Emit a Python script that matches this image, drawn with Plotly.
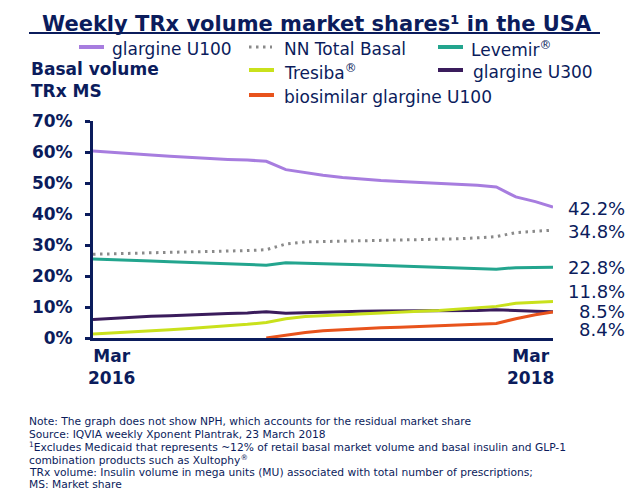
import plotly.graph_objects as go

# ---------------- data ----------------
months = ["2016-03-01", "2016-04-01", "2016-05-01", "2016-06-01", "2016-07-01",
          "2016-08-01", "2016-09-01", "2016-10-01", "2016-11-01", "2016-12-01",
          "2017-01-01", "2017-02-01", "2017-03-01", "2017-04-01", "2017-05-01",
          "2017-06-01", "2017-07-01", "2017-08-01", "2017-09-01", "2017-10-01",
          "2017-11-01", "2017-12-01", "2018-01-01", "2018-02-01", "2018-03-01"]

glargine_u100 = [60.3, 59.8, 59.3, 59.0, 58.6, 58.2, 58.0, 57.6, 57.4, 57.0,
                 54.3, 53.3, 52.5, 51.8, 51.2, 50.8, 50.5, 50.2, 49.9, 49.6,
                 49.3, 48.7, 45.5, 44.0, 42.2]
nn_total_basal = [27.0, 27.2, 27.3, 27.5, 27.6, 27.8, 27.9, 28.0, 28.2, 28.5,
                  30.3, 31.0, 31.1, 31.2, 31.3, 31.4, 31.5, 31.6, 31.8, 32.0,
                  32.3, 32.7, 34.0, 34.4, 34.8]
levemir = [25.5, 25.2, 25.0, 24.8, 24.6, 24.4, 24.2, 24.0, 23.8, 23.5,
           24.3, 24.2, 24.0, 23.8, 23.6, 23.4, 23.2, 23.0, 22.9, 22.7,
           22.5, 22.2, 22.7, 22.8, 22.8]
glargine_u300 = [6.0, 6.4, 6.7, 7.0, 7.2, 7.5, 7.7, 7.9, 8.1, 8.5,
                 8.0, 8.2, 8.4, 8.5, 8.6, 8.7, 8.7, 8.8, 8.8, 8.9,
                 8.9, 9.1, 8.8, 8.6, 8.5]
tresiba = [1.3, 1.6, 1.9, 2.3, 2.7, 3.1, 3.5, 3.9, 4.4, 5.0,
           6.2, 6.9, 7.2, 7.5, 7.8, 8.0, 8.3, 8.6, 8.9, 9.3,
           9.7, 10.2, 11.2, 11.5, 11.8]
biosimilar_u100 = [None, None, None, None, None, None, None, None, None, 0.0,
                   1.0, 1.8, 2.3, 2.7, 3.0, 3.3, 3.5, 3.8, 4.0, 4.2,
                   4.4, 4.7, 6.2, 7.5, 8.4]

y_ticks = [0, 10, 20, 30, 40, 50, 60, 70]
y_tick_labels = ["0%", "10%", "20%", "30%", "40%", "50%", "60%", "70%"]
x_labels = ["Mar<br>2016", "Mar<br>2018"]

footnote_lines = [
    "Note: The graph does not show NPH, which accounts for the residual market share",
    "Source: IQVIA weekly Xponent Plantrak, 23 March 2018",
    "<sup>1</sup>Excludes Medicaid that represents ~12% of retail basal market volume and basal insulin and GLP-1",
    "combination products such as Xultophy<sup>®</sup>",
    "TRx volume: Insulin volume in mega units (MU) associated with total number of prescriptions;",
    "MS: Market share",
]

# ---------------- style ----------------
NAVY = "#0b1c5c"
C_U100 = "#a77ddf"
C_NN = "#8a8a8a"
C_LEV = "#23a58e"
C_TRE = "#c9e11c"
C_U300 = "#3a1c5c"
C_BIO = "#e8531c"
FONT = "DejaVu Sans, Verdana, sans-serif"

L, R, T, B = 93, 553, 121, 338  # plot area in pixels


def px(x):
    return (x - L) / (R - L)


def py(y):
    return (B - y) / (B - T)


series = [
    ("glargine U100", glargine_u100, C_U100, "solid"),
    ("NN Total Basal", nn_total_basal, C_NN, "2.5px,4.5px"),
    ("Levemir®", levemir, C_LEV, "solid"),
    ("glargine U300", glargine_u300, C_U300, "solid"),
    ("Tresiba®", tresiba, C_TRE, "solid"),
    ("biosimilar glargine U100", biosimilar_u100, C_BIO, "solid"),
]

fig = go.Figure()
for name, vals, col, dash in series:
    fig.add_trace(go.Scatter(x=months, y=vals, name=name, mode="lines",
                             line=dict(color=col, width=3, dash=dash),
                             connectgaps=False, showlegend=False))

fig.update_layout(
    width=640, height=500,
    margin=dict(l=L, r=640 - R, t=T, b=500 - B),
    paper_bgcolor="white", plot_bgcolor="white",
    showlegend=False,
    font=dict(family=FONT, color=NAVY),
)
fig.update_xaxes(range=[months[0], months[-1]], showline=True, linecolor=NAVY,
                 linewidth=3, showgrid=False, zeroline=False,
                 showticklabels=False, ticks="")
fig.update_yaxes(range=[0, 70], tickmode="array", tickvals=y_ticks, ticktext=y_tick_labels,
                 showline=True, linecolor=NAVY, linewidth=3, showgrid=False,
                 zeroline=False, ticks="outside", ticklen=5, tickwidth=3,
                 tickcolor=NAVY, ticklabelstandoff=9,
                 tickfont=dict(family=FONT, size=17, color=NAVY, weight="bold"))

ann = []
shapes = []

# title + underline
ann.append(dict(xref="paper", yref="paper", x=px(317), y=py(24), xanchor="center",
                yanchor="middle", showarrow=False,
                text="<b>Weekly TRx volume market shares¹ in the USA</b>",
                font=dict(family=FONT, size=21, color=NAVY)))
shapes.append(dict(type="line", xref="paper", yref="paper", x0=px(29), x1=px(600),
                   y0=py(33), y1=py(33), line=dict(color=NAVY, width=2)))

# y-axis caption
for txt, yy in [("Basal volume", 69), ("TRx MS", 91)]:
    ann.append(dict(xref="paper", yref="paper", x=px(29), y=py(yy), xanchor="left",
                    yanchor="middle", showarrow=False, text="<b>" + txt + "</b>",
                    font=dict(family=FONT, size=17, color=NAVY)))

# legend (manual)
legend_pos = {
    "glargine U100": (79, 104, 110, 47),
    "NN Total Basal": (249, 272, 282, 47),
    "Levemir®": (438, 463, 469, 47),
    "Tresiba®": (249, 274, 282, 70),
    "glargine U300": (438, 463, 471, 70),
    "biosimilar glargine U100": (249, 274, 282, 95),
}
for name, vals, col, dash in series:
    k0, k1, tx, yy = legend_pos[name]
    shapes.append(dict(type="line", xref="paper", yref="paper", x0=px(k0), x1=px(k1),
                       y0=py(yy), y1=py(yy),
                       line=dict(color=col, width=4 if dash == "solid" else 3, dash=dash)))
    label = name.replace("®", "<sup>®</sup>")
    ann.append(dict(xref="paper", yref="paper", x=px(tx), y=py(yy + 2), xanchor="left",
                    yanchor="middle", showarrow=False, text=label,
                    font=dict(family=FONT, size=17, color=NAVY)))

# end-value labels
label_y = {"glargine U100": 41.9, "NN Total Basal": 34.4, "Levemir®": 22.7,
           "Tresiba®": 14.9, "glargine U300": 8.5, "biosimilar glargine U100": 2.6}
for name, vals, col, dash in series:
    ann.append(dict(xref="paper", yref="y", x=px(627), y=label_y[name], xanchor="right",
                    yanchor="middle", showarrow=False, text=f"{vals[-1]:.1f}%",
                    font=dict(family=FONT, size=18, color=NAVY)))

# x labels
ann.append(dict(xref="x", yref="paper", x=months[0], y=py(344), xanchor="left",
                yanchor="top", showarrow=False, align="center", xshift=-7,
                text="<b>" + x_labels[0] + "</b>",
                font=dict(family=FONT, size=17, color=NAVY)))
ann.append(dict(xref="x", yref="paper", x=months[-1], y=py(344), xanchor="right",
                yanchor="top", showarrow=False, align="center", xshift=3,
                text="<b>" + x_labels[1] + "</b>",
                font=dict(family=FONT, size=17, color=NAVY)))

# footnote, one annotation per line
foot_y = [421, 434, 447, 459.5, 472.5, 485]
for line, yy in zip(footnote_lines, foot_y):
    ann.append(dict(xref="paper", yref="paper", x=px(27), y=py(yy), xanchor="left",
                    yanchor="middle", showarrow=False, align="left", text=line,
                    font=dict(family=FONT, size=10.7, color=NAVY)))

fig.update_layout(annotations=ann, shapes=shapes)
fig.write_html("out.html", config={"displayModeBar": False},
               post_script="document.body.style.margin='0';")
